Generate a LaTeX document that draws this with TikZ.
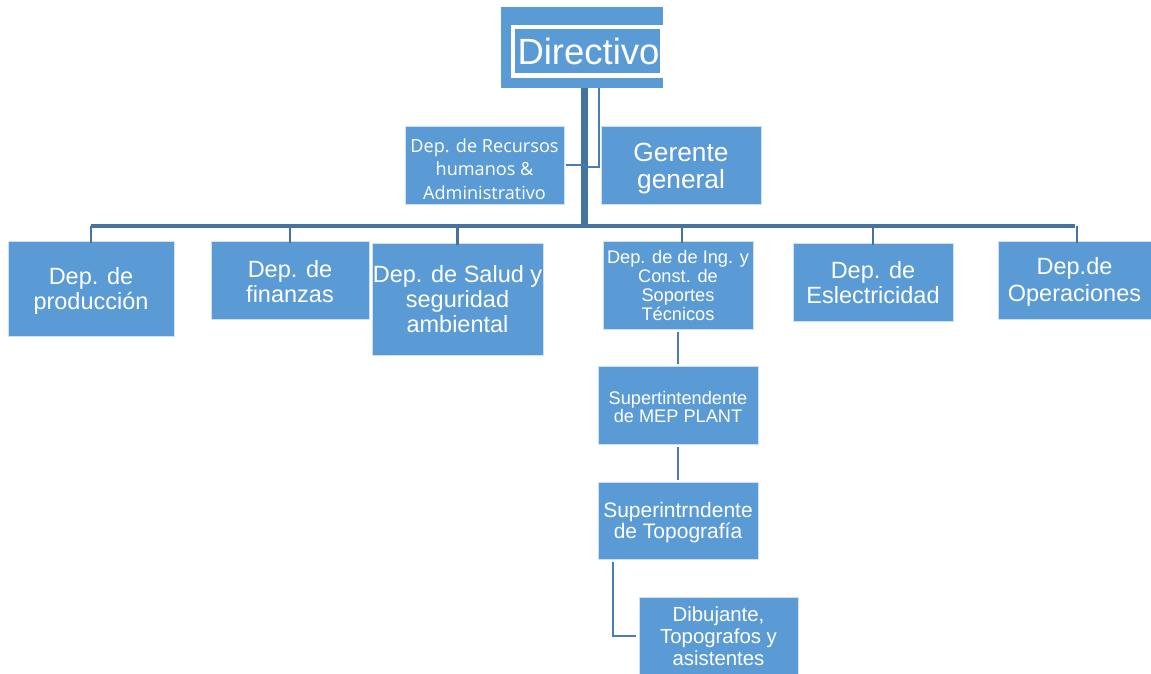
\documentclass[tikz,border=0pt]{standalone}
\usepackage{fontspec}
\setmainfont{Liberation Sans}
\newfontfamily\osans{Open Sans}
\definecolor{boxblue}{HTML}{5B9BD5}
\definecolor{linedark}{HTML}{44739F}
\definecolor{linethin}{HTML}{4A7DB5}
\tikzset{
  box/.style={rectangle, fill=boxblue, draw=white!70!boxblue, line width=0.8pt, text=white, align=center, inner sep=0pt},
  boxtext/.style={text=white, align=center, inner sep=0pt},
  fsbig/.style={font=\fontsize{23.5}{25}\selectfont},
  trunkline/.style={draw=linedark, line width=7pt},
  busline/.style={draw=linedark, line width=3.5pt},
  dropline/.style={draw=linedark, line width=2.5pt},
  thinline/.style={draw=linethin, line width=2.2pt},
}
\begin{document}
\begin{tikzpicture}[x=1pt,y=-1pt]
\useasboundingbox (0,0) rectangle (1151,673);
% Directivo
\node[box, draw=none, minimum width=162pt, minimum height=81pt] (dir) at (582,47.5) {};
\fill[white] (511,25) rectangle (663,78);
\fill[boxblue] (515,29) rectangle (660,73);
\node[text=white, font=\fontsize{36.5}{40}\selectfont, inner sep=0pt] (dirtext) at (588.5,51) {Directivo};
% second level
\node[box, minimum width=159pt, minimum height=78pt] (rec) at (484.5,165) {};
\node[boxtext, font=\osans\fontsize{18.1}{23.5}\selectfont] (rect) at ([yshift=-4pt]rec.center) {Dep. de Recursos\\humanos \&\\Administrativo};
\node[box, minimum width=160pt, minimum height=78pt] (ger) at (681,165) {};
\node[boxtext, font=\fontsize{26.3}{27}\selectfont] (gert) at ([yshift=-4pt]ger.center) {Gerente\\general};
% departments
\node[box, minimum width=166pt, minimum height=95pt] (prod) at (91,288.5) {};
\node[boxtext, fsbig] (prodt) at ([yshift=-2pt]prod.center) {Dep. de\\producción};
\node[box, minimum width=158pt, minimum height=78pt] (fin) at (290,280) {};
\node[boxtext, fsbig] (fint) at ([yshift=-2pt]fin.center) {Dep. de\\finanzas};
\node[box, fsbig, minimum width=171pt, minimum height=112pt] (sal) at (457.5,299) {Dep. de Salud y\\seguridad\\ambiental};
\node[box, minimum width=150pt, minimum height=88pt, font=\fontsize{18.2}{19}\selectfont] (ing) at (678,285) {Dep. de de Ing. y\\Const. de\\Soportes\\Técnicos};
\node[box, minimum width=160pt, minimum height=78pt] (elec) at (873,282) {};
\node[boxtext, fsbig] (elect) at ([yshift=-1pt]elec.center) {Dep. de\\Eslectricidad};
\node[box, minimum width=153pt, minimum height=78pt] (oper) at (1074.5,280) {};
\node[boxtext, font=\fontsize{23.5}{26.5}\selectfont] (opert) at ([yshift=-2pt]oper.center) {Dep.de\\Operaciones};
% lower chain
\node[box, minimum width=160pt, minimum height=78pt] (mep) at (678,405) {};
\node[boxtext, font=\fontsize{18.2}{18.5}\selectfont] (mept) at ([yshift=-2pt]mep.center) {Supertintendente\\de MEP PLANT};
\node[box, minimum width=160pt, minimum height=77pt] (topo) at (678,520.5) {};
\node[boxtext, font=\fontsize{21}{21.5}\selectfont] (topot) at ([yshift=-2pt]topo.center) {Superintrndente\\de Topografía};
\node[box, minimum width=159pt, minimum height=78pt, font=\fontsize{20.4}{22}\selectfont] (dib) at (718.5,636) {Dibujante,\\Topografos y\\asistentes};
% connectors
\coordinate (trunktop) at (584.5,88);
\coordinate (trunkbot) at (584.5,228);
\coordinate (busy) at (0,226);
\draw[trunkline] (trunktop) -- (trunkbot);
\draw[busline] (prod.north |- busy) -- (oper.north |- busy);
\draw[dropline] (prod.north |- busy) -- ([yshift=-2pt]prod.north);
\draw[dropline] (fin.north |- busy) -- ([yshift=-2pt]fin.north);
\draw[dropline] (sal.north |- busy) -- ([yshift=-2pt]sal.north);
\draw[dropline] ([xshift=4pt]ing.north |- busy) -- ([xshift=4pt,yshift=-2pt]ing.north);
\draw[dropline] (elec.north |- busy) -- ([yshift=-2pt]elec.north);
\draw[dropline] ([xshift=2.5pt]oper.north |- busy) -- ([xshift=2.5pt,yshift=-2pt]oper.north);
% assistants
\coordinate (dirjoin) at (599,88);
\coordinate (gerjoin) at (599,167);
\draw[thinline] (dirjoin) -- (gerjoin) -- (584.5,167);
\draw[thinline] ([xshift=2pt]rec.east |- 0,165) -- (584.5,165);
% lower chain connectors
\draw[thinline] ([yshift=-3pt]ing.south) -- ([yshift=2pt]mep.north);
\draw[thinline] ([yshift=-3pt]mep.south) -- ([yshift=2pt]topo.north);
\draw[thinline] ([yshift=-3pt]topo.south -| 613,0) |- ([xshift=-3pt]dib.west |- 0,636);
\end{tikzpicture}
\end{document}
